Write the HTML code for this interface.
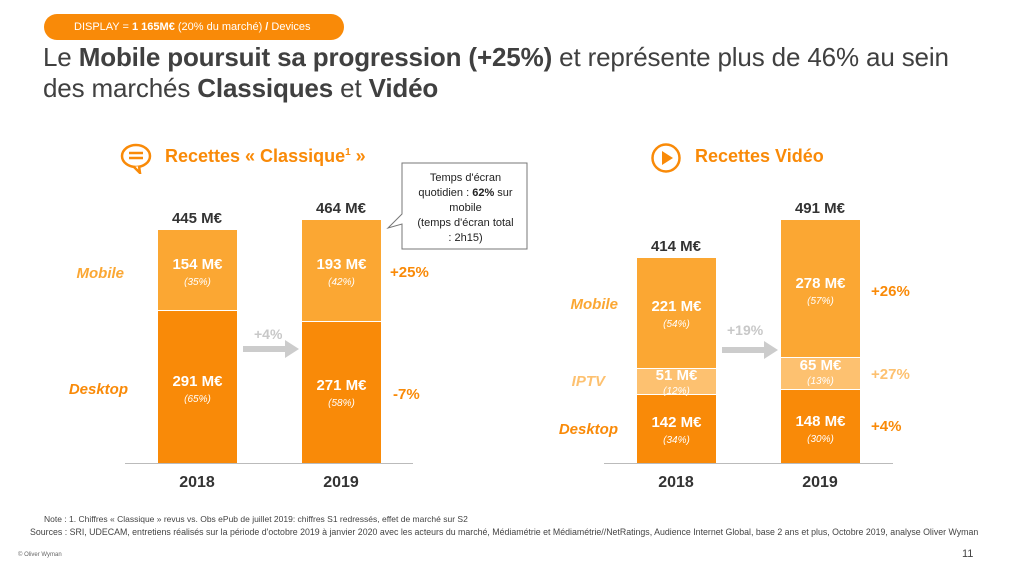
<!DOCTYPE html>
<html><head><meta charset="utf-8"><style>
body{margin:0;width:1024px;height:571px;background:#fff;position:relative;overflow:hidden;font-family:"Liberation Sans",sans-serif;color:#404040}
.a{position:absolute}
.c{text-align:center}
.m{background:#FBA733}.d{background:#F98A08}.i{background:#FDC170}
.v{color:#fff;font-weight:bold;font-size:15px;text-align:center;line-height:18px}
.v i{font-size:10px;font-weight:normal;display:block}
.lbl{font-weight:bold;font-style:italic;font-size:15px;text-align:right}
.tot{font-weight:bold;font-size:15px;text-align:center;width:100px;color:#333}
.yr{font-weight:bold;font-size:16px;text-align:center;width:100px;color:#333}
.pc{font-weight:bold;font-size:15px;color:#F98A08}
</style></head><body>
<div class="a" style="left:44px;top:14px;width:300px;height:26px;background:#F98A08;border-radius:13px;color:#fff;font-size:11px;line-height:26px;"><span style="padding-left:30px">DISPLAY = <b>1 165M€</b> (20% du marché) <b>/</b> Devices</span></div>
<div class="a" style="left:43px;top:42px;font-size:26px;line-height:31px;color:#404040;letter-spacing:-0.15px">Le <b>Mobile poursuit sa progression (+25%)</b> et représente plus de 46% au sein<br>des marchés <b>Classiques</b> et <b>Vidéo</b></div>

<svg class="a" style="left:120px;top:142px" width="34" height="32" viewBox="0 0 34 32"><ellipse cx="16" cy="14" rx="14" ry="11" fill="none" stroke="#F98A08" stroke-width="2.5"/><path d="M14 25 L20 31 L19 24" fill="#fff" stroke="#F98A08" stroke-width="2.5"/><line x1="9" y1="11" x2="23" y2="11" stroke="#F98A08" stroke-width="2.5"/><line x1="9" y1="16" x2="23" y2="16" stroke="#F98A08" stroke-width="2.5"/></svg>
<div class="a" style="left:165px;top:146px;font-size:18px;font-weight:bold;color:#F98A08">Recettes « Classique<sup style="font-size:10px">1</sup> »</div>

<svg class="a" style="left:650px;top:142px" width="32" height="32"><circle cx="16" cy="16" r="13.5" fill="none" stroke="#F98A08" stroke-width="2.5"/><path d="M12 9 L23 16 L12 23Z" fill="#F98A08"/></svg>
<div class="a" style="left:695px;top:146px;font-size:18px;font-weight:bold;color:#F98A08">Recettes Vidéo</div>

<!-- callout -->
<svg class="a" style="left:380px;top:162px" width="150" height="100"><path d="M22 1 H147 V87 H22 V62 L8 66 L22 52 Z" fill="#fff" stroke="#777" stroke-width="1"/></svg>
<div class="a c" style="left:408px;top:171px;width:115px;font-size:11px;line-height:15px;color:#222">Temps d'écran<br>quotidien : <b>62%</b> sur<br>mobile<br>(temps d'écran total<br>: 2h15)</div>

<!-- left chart -->
<div class="a" style="left:125px;top:463px;width:288px;height:1px;background:#bbb"></div>
<div class="a tot" style="left:147px;top:210px">445 M€</div>
<div class="a tot" style="left:291px;top:200px">464 M€</div>
<div class="a m" style="left:158px;top:230px;width:79px;height:80px"></div>
<div class="a d" style="left:158px;top:311px;width:79px;height:152px"></div>
<div class="a m" style="left:302px;top:220px;width:79px;height:101px"></div>
<div class="a d" style="left:302px;top:322px;width:79px;height:141px"></div>
<div class="a v" style="left:158px;top:256px;width:79px">154 M€<i>(35%)</i></div>
<div class="a v" style="left:158px;top:373px;width:79px">291 M€<i>(65%)</i></div>
<div class="a v" style="left:302px;top:256px;width:79px">193 M€<i>(42%)</i></div>
<div class="a v" style="left:302px;top:377px;width:79px">271 M€<i>(58%)</i></div>
<div class="a lbl" style="left:40px;top:265px;width:84px;color:#FBA733">Mobile</div>
<div class="a lbl" style="left:40px;top:381px;width:88px;color:#F98A08">Desktop</div>
<div class="a pc" style="left:390px;top:264px">+25%</div>
<div class="a pc" style="left:393px;top:386px">-7%</div>
<div class="a" style="left:254px;top:326px;font-size:14px;font-weight:bold;color:#c8c8c8">+4%</div>
<svg class="a" style="left:243px;top:340px" width="58" height="18"><rect x="0" y="6" width="44" height="6" fill="#ccc"/><path d="M42 0 L56 9 L42 18Z" fill="#ccc"/></svg>
<div class="a yr" style="left:147px;top:474px">2018</div>
<div class="a yr" style="left:291px;top:474px">2019</div>

<!-- right chart -->
<div class="a" style="left:604px;top:463px;width:289px;height:1px;background:#bbb"></div>
<div class="a tot" style="left:626px;top:238px">414 M€</div>
<div class="a tot" style="left:770px;top:200px">491 M€</div>
<div class="a m" style="left:637px;top:258px;width:79px;height:110px"></div>
<div class="a i" style="left:637px;top:369px;width:79px;height:25px"></div>
<div class="a d" style="left:637px;top:395px;width:79px;height:68px"></div>
<div class="a m" style="left:781px;top:220px;width:79px;height:137px"></div>
<div class="a i" style="left:781px;top:358px;width:79px;height:31px"></div>
<div class="a d" style="left:781px;top:390px;width:79px;height:73px"></div>
<div class="a v" style="left:637px;top:298px;width:79px">221 M€<i>(54%)</i></div>
<div class="a v" style="left:637px;top:368px;width:79px;line-height:16px">51 M€<i>(12%)</i></div>
<div class="a v" style="left:637px;top:414px;width:79px">142 M€<i>(34%)</i></div>
<div class="a v" style="left:781px;top:275px;width:79px">278 M€<i>(57%)</i></div>
<div class="a v" style="left:781px;top:358px;width:79px;line-height:16px">65 M€<i>(13%)</i></div>
<div class="a v" style="left:781px;top:413px;width:79px">148 M€<i>(30%)</i></div>
<div class="a lbl" style="left:530px;top:296px;width:88px;color:#FBA733">Mobile</div>
<div class="a lbl" style="left:530px;top:373px;width:75px;color:#FDC170">IPTV</div>
<div class="a lbl" style="left:530px;top:421px;width:88px;color:#F98A08">Desktop</div>
<div class="a pc" style="left:871px;top:283px">+26%</div>
<div class="a pc" style="left:871px;top:366px;color:#FDC170">+27%</div>
<div class="a pc" style="left:871px;top:418px">+4%</div>
<div class="a" style="left:727px;top:322px;font-size:14px;font-weight:bold;color:#c8c8c8">+19%</div>
<svg class="a" style="left:722px;top:341px" width="58" height="18"><rect x="0" y="6" width="44" height="6" fill="#ccc"/><path d="M42 0 L56 9 L42 18Z" fill="#ccc"/></svg>
<div class="a yr" style="left:626px;top:474px">2018</div>
<div class="a yr" style="left:770px;top:474px">2019</div>

<div class="a" style="left:44px;top:514px;font-size:8.5px;color:#444;white-space:nowrap">Note : 1. Chiffres « Classique » revus vs. Obs ePub de juillet 2019: chiffres S1 redressés, effet de marché sur S2</div>
<div class="a" style="left:30px;top:527px;font-size:8.8px;color:#444;white-space:nowrap">Sources : SRI, UDECAM, entretiens réalisés sur la période d'octobre 2019 à janvier 2020 avec les acteurs du marché, Médiamétrie et Médiamétrie//NetRatings, Audience Internet Global, base 2 ans et plus, Octobre 2019, analyse Oliver Wyman</div>
<div class="a" style="left:18px;top:552px;font-size:6px;color:#666">© Oliver Wyman</div>
<div class="a" style="left:962px;top:548px;font-size:11px;color:#444">11</div>
</body></html>
